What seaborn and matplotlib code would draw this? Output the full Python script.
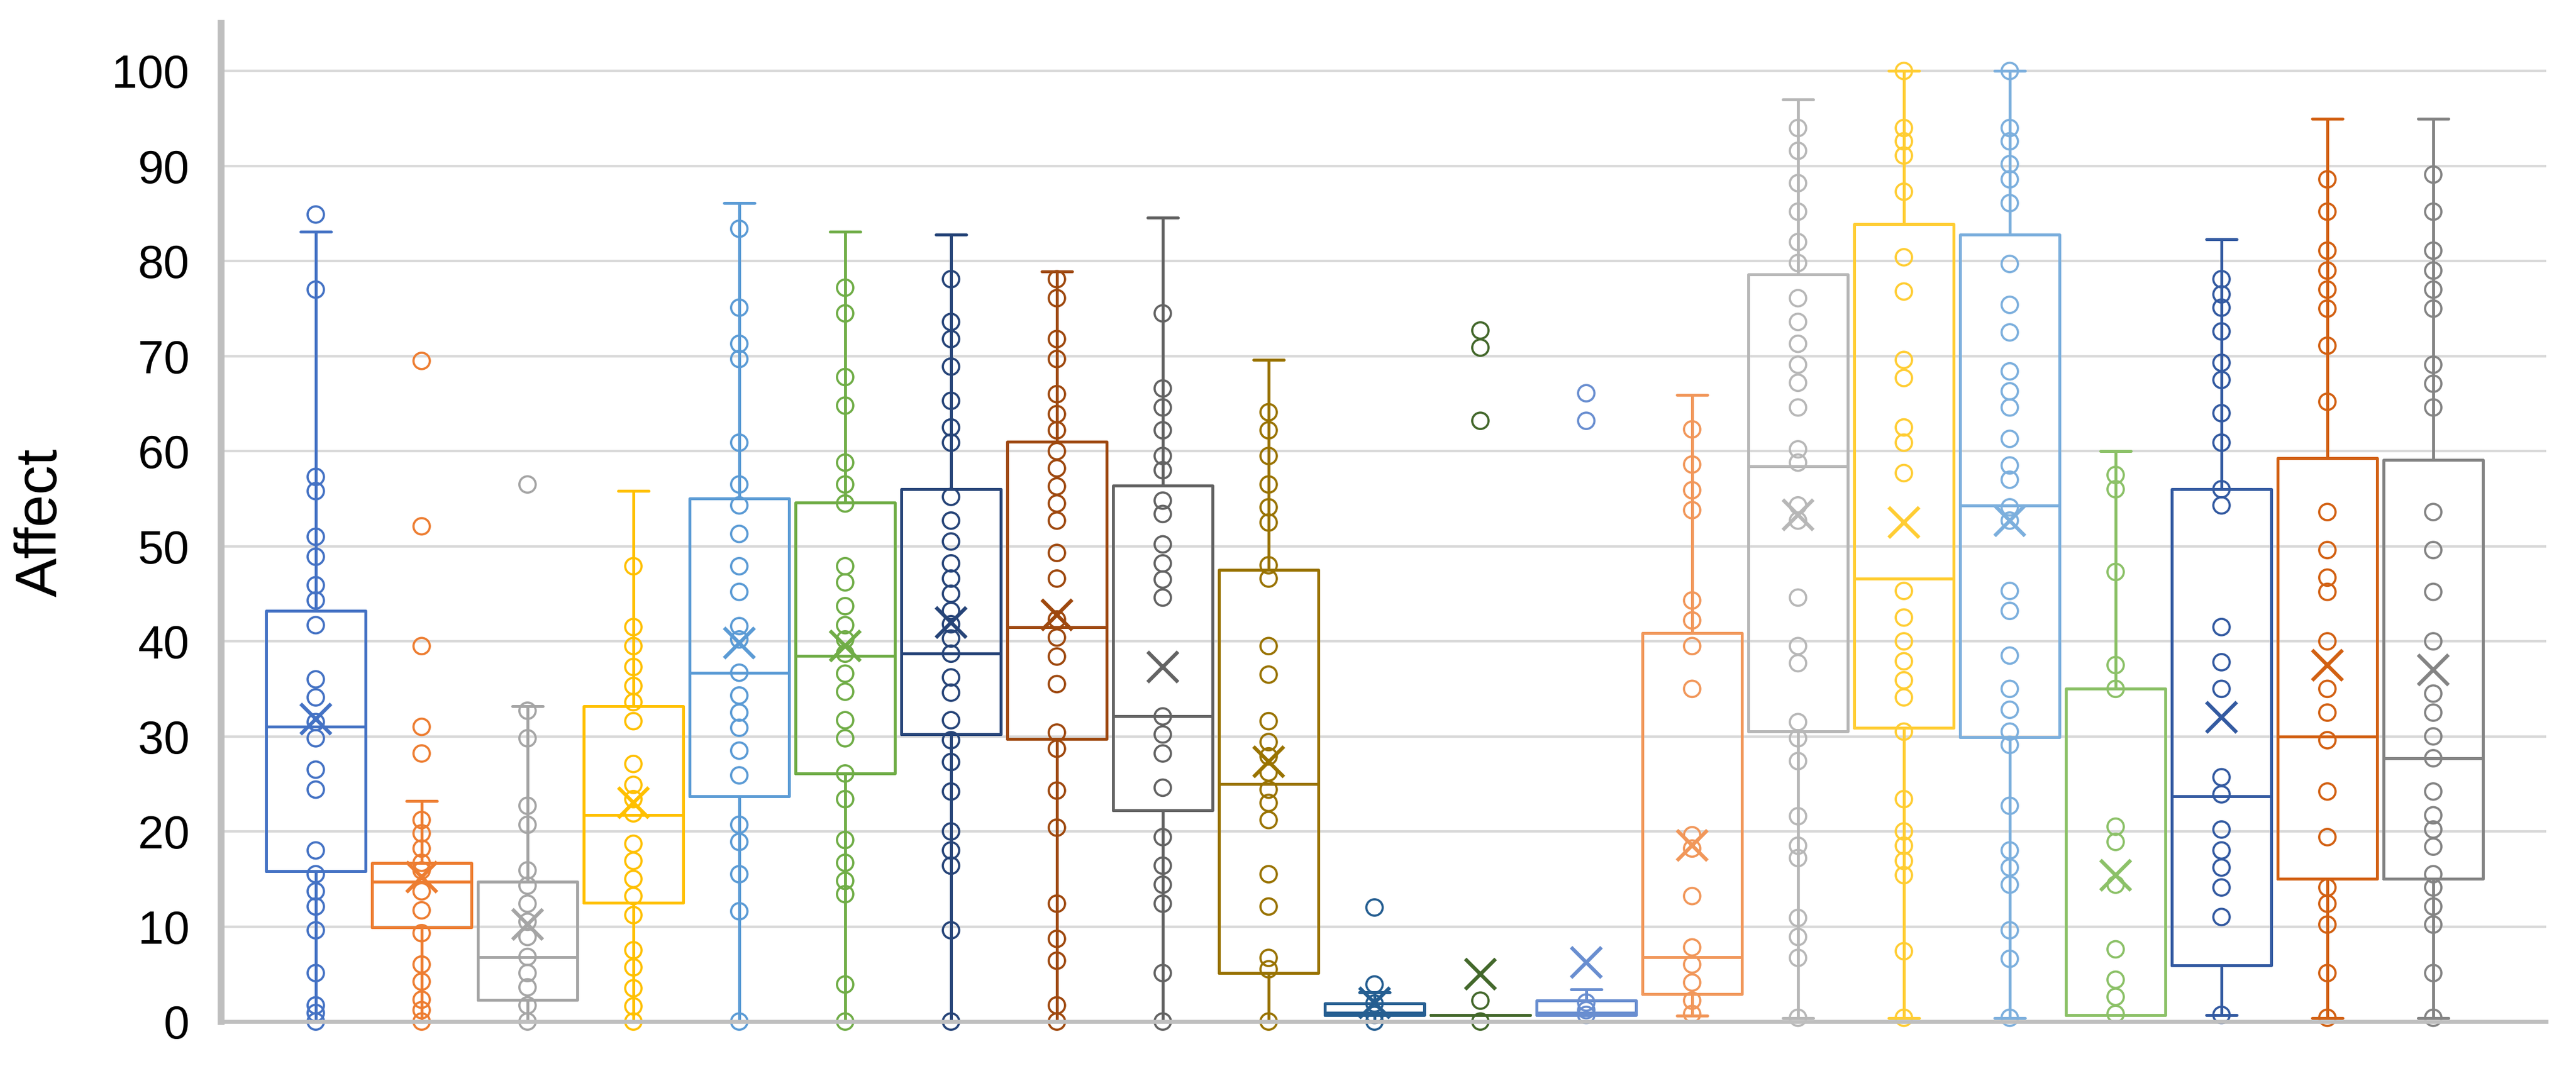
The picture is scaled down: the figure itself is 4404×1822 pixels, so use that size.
"""
plot.py
Affect box plots, one box per group, with inner points and mean markers
"""

import numpy as np
import pandas as pd
import matplotlib
matplotlib.use('Agg')
import matplotlib.pyplot as plt
import seaborn as sns

# ── data ──────────────────────────────────────────────────────────
colors = ['#4472C4', '#ED7D31', '#A5A5A5', '#FFC000', '#5B9BD5', '#70AD47',
          '#264478', '#9E480E', '#636363', '#997300', '#255E91', '#43682B',
          '#698ED0', '#F1975A', '#B7B7B7', '#FFCD33', '#7CAFDD', '#8CC168',
          '#335AA1', '#D26012', '#848484']

whisker_lo = [0, 0, 0, 0, 0, 0, 0, 0, 0, 0, 0, 0.7, 0.7, 0.6, 0.4, 0.4, 0.4,
              0.7, 0.7, 0.4, 0.4]
q1 = [15.8, 9.9, 2.3, 12.5, 23.7, 26.1, 30.2, 29.7, 22.2, 5.1, 0.7, 0.7, 0.7,
      2.9, 30.5, 30.9, 29.9, 0.7, 5.9, 15.0, 15.0]
medians = [31.0, 14.7, 6.8, 21.7, 36.7, 38.5, 38.7, 41.5, 32.1, 25.0, 0.9, 0.7,
           0.9, 6.8, 58.4, 46.6, 54.3, 0.7, 23.7, 30.0, 27.7]
q3 = [43.2, 16.7, 14.7, 33.2, 55.0, 54.6, 56.0, 61.0, 56.4, 47.5, 1.9, 0.7,
      2.2, 40.9, 78.6, 83.9, 82.8, 35.0, 56.0, 59.3, 59.1]
whisker_hi = [83.1, 23.2, 33.2, 55.8, 86.1, 83.1, 82.8, 78.9, 84.6, 69.6, 3.1,
              0.7, 3.4, 65.9, 97.0, 100, 100, 60.0, 82.3, 95.0, 95.0]
means = [31.8, 15.2, 10.2, 23.0, 39.8, 39.5, 42.0, 42.8, 37.3, 27.3, 2.0, 5.0,
         6.2, 18.5, 53.3, 52.5, 52.7, 15.4, 32.0, 37.5, 37.0]

points = [
    [84.9, 77.0, 57.3, 55.8, 51.0, 48.9, 45.9, 44.3, 41.7, 36.0, 34.1, 31.5,
     29.8, 26.5, 24.4, 18.0, 15.5, 13.7, 12.1, 9.6, 5.1, 1.7, 0.9, 0],
    [69.5, 52.1, 39.5, 31.0, 28.2, 21.2, 19.8, 18.2, 16.7, 15.9, 13.7, 11.7,
     9.3, 6.0, 4.2, 2.3, 1.2, 0],
    [56.5, 32.7, 29.8, 22.7, 20.7, 15.9, 14.3, 12.4, 10.5, 8.9, 6.8, 5.1, 3.6,
     1.7, 0],
    [47.9, 41.5, 39.5, 37.3, 35.3, 33.6, 31.6, 27.1, 24.9, 23.4, 21.9, 18.7,
     16.9, 15.0, 13.2, 11.2, 7.5, 5.7, 3.5, 1.6, 0],
    [83.4, 75.1, 71.3, 69.7, 60.9, 56.5, 54.3, 51.3, 47.9, 45.2, 41.6, 40.2,
     36.7, 34.3, 32.5, 30.9, 28.5, 25.9, 20.7, 18.9, 15.5, 11.6, 0],
    [77.2, 74.5, 67.8, 64.8, 58.8, 56.5, 54.5, 47.9, 46.2, 43.7, 41.7, 40.2,
     38.7, 36.6, 34.7, 31.7, 29.8, 26.1, 23.4, 19.1, 16.7, 14.8, 13.4, 3.9, 0],
    [78.1, 73.6, 71.8, 68.9, 65.3, 62.5, 60.9, 55.2, 52.7, 50.5, 48.2, 46.6,
     45.0, 43.2, 41.8, 40.3, 38.7, 36.2, 34.6, 31.7, 29.6, 27.3, 24.2, 20.0,
     18.0, 16.4, 9.6, 0],
    [78.1, 76.1, 71.8, 69.7, 66.0, 63.9, 62.2, 60.0, 58.2, 56.3, 54.5, 52.7,
     49.3, 46.6, 42.3, 40.4, 38.4, 35.5, 30.4, 28.7, 24.3, 20.4, 12.4, 8.7,
     6.4, 1.7, 0],
    [74.5, 66.6, 64.6, 62.2, 59.5, 58.0, 54.8, 53.4, 50.2, 48.2, 46.5, 44.6,
     32.1, 30.2, 28.2, 24.6, 19.4, 16.4, 14.4, 12.4, 5.1, 0],
    [64.1, 62.2, 59.5, 56.5, 54.1, 52.5, 48.0, 46.6, 39.5, 36.5, 31.6, 29.4,
     27.9, 26.2, 24.4, 23.0, 21.2, 15.5, 12.1, 6.7, 5.5, 0],
    [12.0, 3.9, 1.9, 0.7, 0],
    [72.7, 70.9, 63.2, 2.2, 0],
    [66.1, 63.2, 2.0, 1.2, 0.7],
    [62.3, 58.6, 55.9, 53.8, 44.3, 42.2, 39.5, 35.0, 19.6, 18.2, 13.2, 7.8,
     6.0, 4.1, 2.2, 0.8],
    [94.0, 91.6, 88.2, 85.2, 82.0, 79.8, 76.1, 73.6, 71.3, 69.1, 67.2, 64.6,
     60.2, 58.8, 54.3, 52.7, 44.6, 39.5, 37.7, 31.5, 29.8, 27.4, 21.6, 18.5,
     17.2, 10.9, 8.9, 6.7, 0.4],
    [100, 94.0, 92.6, 91.1, 87.3, 80.4, 76.8, 69.6, 67.7, 62.5, 60.9, 57.7,
     45.3, 42.5, 40.0, 37.9, 35.9, 34.1, 30.5, 23.4, 20.0, 18.5, 16.9, 15.4,
     7.4, 0.4],
    [100, 94.0, 92.6, 90.2, 88.6, 86.1, 79.7, 75.4, 72.5, 68.4, 66.3, 64.6,
     61.3, 58.5, 57.0, 54.1, 52.7, 45.3, 43.2, 38.5, 35.0, 32.8, 30.5, 29.1,
     22.7, 18.0, 16.2, 14.4, 9.6, 6.6, 0.4],
    [57.5, 56.0, 47.3, 37.5, 35.0, 20.5, 18.9, 14.4, 7.6, 4.4, 2.6, 0.8],
    [78.1, 76.5, 75.1, 72.6, 69.3, 67.5, 64.0, 60.9, 56.0, 54.3, 41.5, 37.8,
     35.0, 25.7, 23.9, 20.2, 18.0, 16.2, 14.1, 11.0, 0.7],
    [88.6, 85.2, 81.1, 79.0, 77.0, 75.0, 71.1, 65.2, 53.6, 49.6, 46.7, 45.2,
     40.0, 35.0, 32.5, 29.6, 24.2, 19.4, 14.1, 12.4, 10.2, 5.1, 0.4],
    [89.1, 85.2, 81.1, 79.0, 77.0, 75.0, 69.1, 67.1, 64.6, 53.6, 49.6, 45.2,
     40.0, 34.5, 32.5, 30.0, 27.7, 24.2, 21.7, 20.2, 18.4, 15.5, 14.1, 12.1,
     10.2, 5.1, 0.4],
]

n = len(colors)
df = pd.DataFrame(
    [(i, v) for i, pts in enumerate(points) for v in pts],
    columns=['group', 'affect']
)

sns.set_style('white')
plt.rcParams['font.family'] = ['Liberation Sans', 'DejaVu Sans']

fig = plt.figure(figsize=(4404 / 300, 1822 / 300), dpi=300)
ax = fig.add_axes([0.0858, 0.0417, 0.9026, 0.9363])

# ── inner points ──────────────────────────────────────────────────
n_before = len(ax.collections)
sns.stripplot(
    data=df, x='group', y='affect', hue='group', palette=colors,
    jitter=False, size=6.7, linewidth=0.9, legend=False, ax=ax, zorder=3
)
for coll in ax.collections[n_before:]:
    fc = coll.get_facecolors()
    coll.set_edgecolors(fc)
    coll.set_facecolors('none')
    coll.set_clip_on(False)

# ── boxes, whiskers and means ────────────────────────────────────
stats = [
    dict(whislo=whisker_lo[i], q1=q1[i], med=medians[i], q3=q3[i],
         whishi=whisker_hi[i], mean=means[i], fliers=[])
    for i in range(n)
]
lw = 1.2
art = ax.bxp(
    stats, positions=range(n), widths=0.94, capwidths=0.285,
    showmeans=True, showfliers=False, manage_ticks=False,
    boxprops=dict(linewidth=lw), whiskerprops=dict(linewidth=lw),
    capprops=dict(linewidth=lw), medianprops=dict(linewidth=lw),
    meanprops=dict(marker='x', markersize=12.5, markeredgewidth=1.5),
)
for i, c in enumerate(colors):
    art['boxes'][i].set_color(c)
    art['medians'][i].set_color(c)
    art['means'][i].set_color(c)
    art['means'][i].set_markeredgecolor(c)
    art['means'][i].set_clip_on(False)
    for ln in art['whiskers'][2 * i:2 * i + 2] + art['caps'][2 * i:2 * i + 2]:
        ln.set_color(c)

# ── axes styling ─────────────────────────────────────────────────
ax.set_xlim(-0.895, n - 1 + 1.066)
ax.set_ylim(0, 105)
ax.set_yticks(np.arange(0, 101, 10))
ax.set_xticks([])
ax.set_xlabel('')
ax.grid(True, axis='y', color='#D9D9D9', linewidth=1.0)
ax.set_axisbelow(True)
ax.tick_params(axis='y', length=0, pad=13, labelsize=19, labelcolor='black')
ax.set_ylabel('Affect', fontsize=24, color='black')
ax.yaxis.set_label_coords(-0.0655, 0.5)

for side in ['top', 'right']:
    ax.spines[side].set_visible(False)
ax.spines['left'].set_color('#BFBFBF')
ax.spines['left'].set_linewidth(2.8)
ax.spines['bottom'].set_color('#BFBFBF')
ax.spines['bottom'].set_linewidth(1.6)
ax.spines['bottom'].set_zorder(5)

plt.savefig('out.png', dpi=300)
plt.close()
